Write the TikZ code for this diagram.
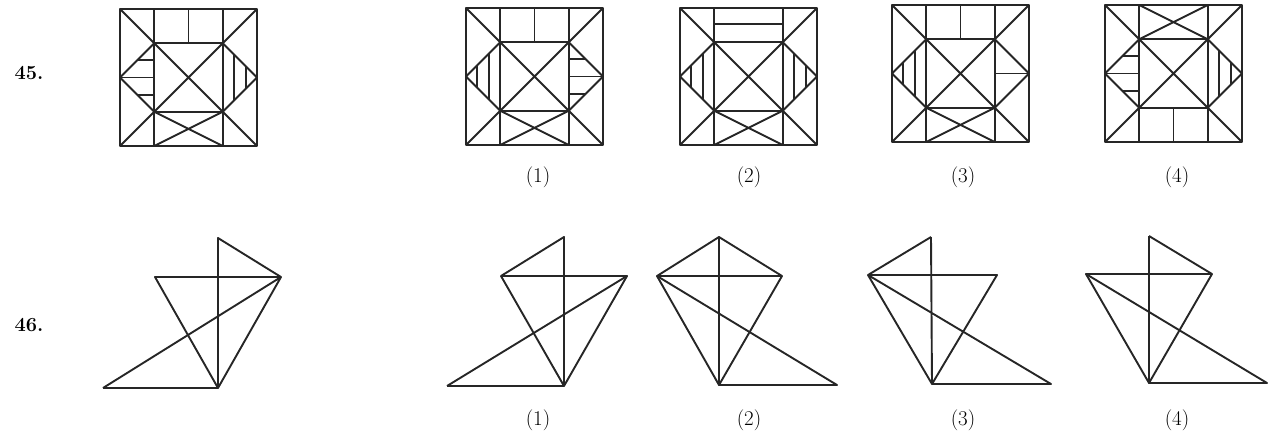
\documentclass[tikz,border=0pt]{standalone}

\begin{document}
\begin{tikzpicture}[x=1pt,y=-1pt,
    line/.style={black!85,line width=1.9pt,line join=round},
    label/.style={font=\fontsize{21}{25}\selectfont},
    qnum/.style={font=\fontsize{20}{24}\selectfont\bfseries}]
    \path[use as bounding box] (0,0) rectangle (1275,437);

    % Numbers
    \node[qnum] (n45) at (29,73) {45.};
    \node[qnum] (n46) at (29,325) {46.};

    % Labels
    \foreach \i/\x in {1/538,2/749,3/963,4/1177}
    {
      \node[label] (a\i) at (\x,177) {(\i)};
      \node[label] (b\i) at (\x,420) {(\i)};
    }

    % Squares: common part
    \foreach \x/\y in {120/146,466/145,680/145,892/142,1105/142}
    {
      \begin{scope}[shift={(\x,\y)},x=137pt,y=137pt,line]
        \draw (0,0) rectangle (1,1);
        \draw (0,0) -- (1,1) (0,1) -- (1,0);
        \draw (0.25,0) -- (0.25,1) (0.75,0) -- (0.75,1);
        \draw (0.25,0.25) -- (0.75,0.25) (0.25,0.75) -- (0.75,0.75);
        \draw (0.25,0.75) -- (0,0.5) -- (0.25,0.25);
        \draw (0.75,0.75) -- (1,0.5) -- (0.75,0.25);
      \end{scope}
    }

    % 45: question
    \begin{scope}[shift={(120,146)},x=137pt,y=137pt,line]
      \draw (0.5,0.75) -- (0.5,1);
      \draw (0.25,0.25) -- (0.75,0) (0.75,0.25) -- (0.25,0);
      \draw (0,0.5) -- (0.25,0.5) (0.125,0.625) -- (0.25,0.625)
            (0.125,0.375) -- (0.25,0.375);
      \draw (0.833,0.333) -- (0.833,0.667) (0.917,0.417) -- (0.917,0.583);
    \end{scope}

    % 45: (1)
    \begin{scope}[shift={(466,145)},x=137pt,y=137pt,line]
      \draw (0.5,0.75) -- (0.5,1);
      \draw (0.25,0.25) -- (0.75,0) (0.75,0.25) -- (0.25,0);
      \draw (0.083,0.417) -- (0.083,0.583) (0.167,0.333) -- (0.167,0.667);
      \draw (0.75,0.5) -- (1,0.5) (0.75,0.625) -- (0.875,0.625)
            (0.75,0.375) -- (0.875,0.375);
    \end{scope}

    % 45: (2)
    \begin{scope}[shift={(680,145)},x=137pt,y=137pt,line]
      \draw (0.25,0.88) -- (0.75,0.88);
      \draw (0.25,0.25) -- (0.75,0) (0.75,0.25) -- (0.25,0);
      \draw (0.083,0.417) -- (0.083,0.583) (0.167,0.333) -- (0.167,0.667);
      \draw (0.833,0.333) -- (0.833,0.667) (0.917,0.417) -- (0.917,0.583);
    \end{scope}

    % 45: (3)
    \begin{scope}[shift={(892,142)},x=137pt,y=137pt,line]
      \draw (0.5,0.75) -- (0.5,1);
      \draw (0.25,0.25) -- (0.75,0) (0.75,0.25) -- (0.25,0);
      \draw (0.083,0.417) -- (0.083,0.583) (0.167,0.333) -- (0.167,0.667);
      \draw (0.75,0.5) -- (1,0.5);
    \end{scope}

    % 45: (4)
    \begin{scope}[shift={(1105,142)},x=137pt,y=137pt,line]
      \draw (0.25,0.75) -- (0.75,1) (0.75,0.75) -- (0.25,1);
      \draw (0.5,0) -- (0.5,0.25);
      \draw (0,0.5) -- (0.25,0.5) (0.125,0.625) -- (0.25,0.625)
            (0.125,0.375) -- (0.25,0.375);
      \draw (0.833,0.333) -- (0.833,0.667) (0.917,0.417) -- (0.917,0.583);
    \end{scope}

    % 46: question
    \coordinate (qT) at (218,238);
    \coordinate (qL) at (155,277);
    \coordinate (qR) at (281,277);
    \coordinate (qB) at (218,388);
    \coordinate (qBL) at (103,388);
    \draw[line] (qBL) -- (qB) -- (qL) -- (qR) -- (qT) -- (qB) -- (qR) -- (qBL);

    % 46: (1)
    \coordinate (aT) at (564,237);
    \coordinate (aL) at (501,276);
    \coordinate (aR) at (627,276);
    \coordinate (aB) at (564,386);
    \coordinate (aBL) at (447,386);
    \draw[line] (aBL) -- (aB) -- (aL) -- (aT) -- (aB) -- (aR) -- (aL);
    \draw[line] (aBL) -- (aR);

    % 46: (2)
    \coordinate (bT) at (719,237);
    \coordinate (bL) at (657,276);
    \coordinate (bR) at (782,276);
    \coordinate (bB) at (719,385);
    \coordinate (bBR) at (837,385);
    \draw[line] (bL) -- (bT) -- (bR) -- (bL) -- (bB) -- (bR);
    \draw[line] (bT) -- (bB) -- (bBR) -- (bL);

    % 46: (3)
    \coordinate (cT) at (931,237);
    \coordinate (cL) at (868,275);
    \coordinate (cR) at (997,275);
    \coordinate (cB) at (932,384);
    \coordinate (cBR) at (1051,384);
    \draw[line] (cT) -- (cL) -- (cR) -- (cB) -- (cL) -- (cBR) -- (cB) -- (cT);

    % 46: (4)
    \coordinate (dT) at (1149,236);
    \coordinate (dL) at (1086,274);
    \coordinate (dR) at (1212,274);
    \coordinate (dB) at (1149,383);
    \coordinate (dBR) at (1267,383);
    \draw[line] (dT) -- (dR) -- (dL) -- (dB) -- (dR);
    \draw[line] (dT) -- (dB) -- (dBR) -- (dL);
  \end{tikzpicture}
\end{document}
